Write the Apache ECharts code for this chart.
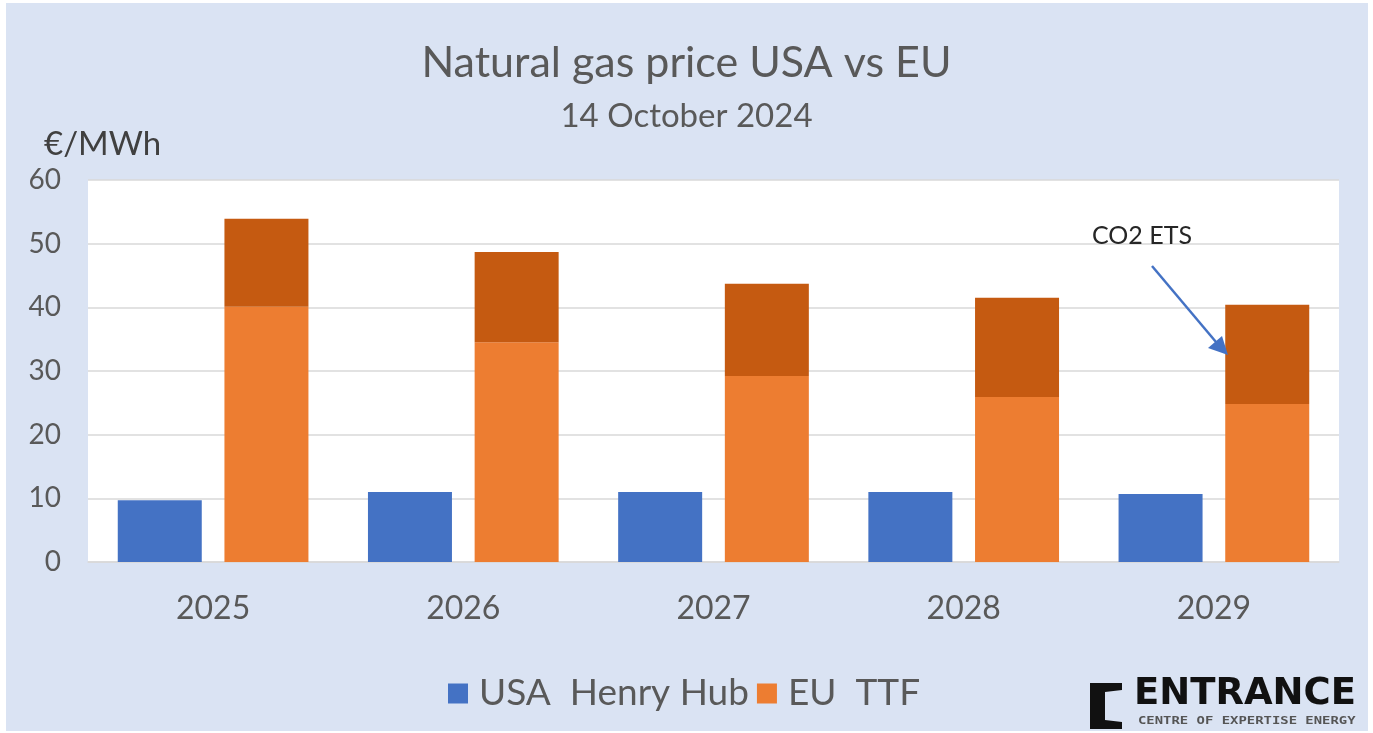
<!DOCTYPE html>
<html>
<head>
<meta charset="utf-8">
<script src="https://cdn.jsdelivr.net/npm/echarts@6/dist/echarts.min.js"></script>
<style>
html,body{margin:0;padding:0;background:#ffffff;}
#chart{width:1373px;height:733px;}
</style>
</head>
<body>
<div id="chart"></div>
<script>
const years = ['2025', '2026', '2027', '2028', '2029'];
const usaHenryHub = [9.7, 11.0, 11.0, 11.0, 10.7];
const euTTF = [40.1, 34.5, 29.2, 25.9, 24.8];
const co2ETS = [13.8, 14.2, 14.5, 15.6, 15.6];
const yTicks = { min: 0, max: 60, interval: 10 };

const FONT = 'Lato, "Open Sans", sans-serif';
const chart = echarts.init(document.getElementById('chart'));

chart.setOption({
  animation: false,
  backgroundColor: '#ffffff',
  title: [
    { text: 'Natural gas price USA vs EU', left: 'center', top: 37,
      textStyle: { fontFamily: FONT, fontSize: 43, fontWeight: 'normal', color: '#595959' } },
    { text: '14 October 2024', left: 'center', top: 95,
      textStyle: { fontFamily: FONT, fontSize: 33, fontWeight: 'normal', color: '#595959' } },
    { text: '€/MWh', left: 39, top: 123,
      textStyle: { fontFamily: FONT, fontSize: 33, fontWeight: 'normal', color: '#404040' } }
  ],
  legend: {
    top: 670, left: 443, itemWidth: 20, itemHeight: 20, itemGap: 8,
    icon: 'rect',
    data: ['USA  Henry Hub', 'EU  TTF'],
    textStyle: { fontFamily: FONT, fontSize: 37, color: '#595959', padding: [0, 0, 0, 6] }
  },
  grid: { left: 88, right: 34, top: 180, bottom: 171, backgroundColor: '#ffffff', show: true, borderWidth: 0 },
  xAxis: {
    type: 'category', data: years,
    axisLine: { show: true, lineStyle: { color: '#d9d9d9', width: 1.5 } },
    axisTick: { show: false },
    axisLabel: { fontFamily: FONT, fontSize: 32, color: '#595959', margin: 31 }
  },
  yAxis: {
    type: 'value', min: yTicks.min, max: yTicks.max, interval: yTicks.interval,
    axisLine: { show: false }, axisTick: { show: false },
    splitLine: { lineStyle: { color: '#d9d9d9', width: 1.5 } },
    axisLabel: { fontFamily: FONT, fontSize: 28, color: '#595959', margin: 27 }
  },
  series: [
    { name: 'USA  Henry Hub', type: 'bar', stack: 'usa', data: usaHenryHub,
      barWidth: 84, barGap: '27%', itemStyle: { color: '#4472c4' } },
    { name: 'EU  TTF', type: 'bar', stack: 'eu', data: euTTF,
      barWidth: 84, itemStyle: { color: '#ed7d31' } },
    { name: 'CO2 ETS', type: 'bar', stack: 'eu', data: co2ETS,
      barWidth: 84, itemStyle: { color: '#c55a11' } }
  ],
  graphic: [
    { type: 'rect', z: -10, silent: true,
      shape: { x: 6, y: 3, width: 1362, height: 728 },
      style: { fill: '#dae3f3' } },
    { type: 'text', left: 1092, top: 223, z: 10,
      style: { text: 'CO2 ETS', font: '25px ' + FONT, fill: '#262626' } },
    { type: 'line', z: 10,
      shape: { x1: 1152, y1: 266, x2: 1216, y2: 342 },
      style: { stroke: '#4472c4', lineWidth: 2.5 } },
    { type: 'polygon', z: 10,
      shape: { points: [[1228, 355], [1208, 348], [1222, 336]] },
      style: { fill: '#4472c4' } },
    { type: 'polygon', z: 10,
      shape: { points: [[1090, 683], [1122, 683], [1122, 690], [1105, 692], [1105, 720], [1122, 722], [1122, 729], [1090, 729]] },
      style: { fill: '#111111' } },
    { type: 'text', left: 1134, top: 676, z: 10,
      style: { text: 'ENTRANCE', font: 'bold 37px "DejaVu Sans", sans-serif', fill: '#111111' } },
    { type: 'text', x: 1138, y: 716, scaleX: 1.39, z: 10,
      style: { text: 'CENTRE OF EXPERTISE ENERGY', font: 'bold 10px "DejaVu Sans Mono", monospace', fill: '#555555' } }
  ]
});
</script>
</body>
</html>
